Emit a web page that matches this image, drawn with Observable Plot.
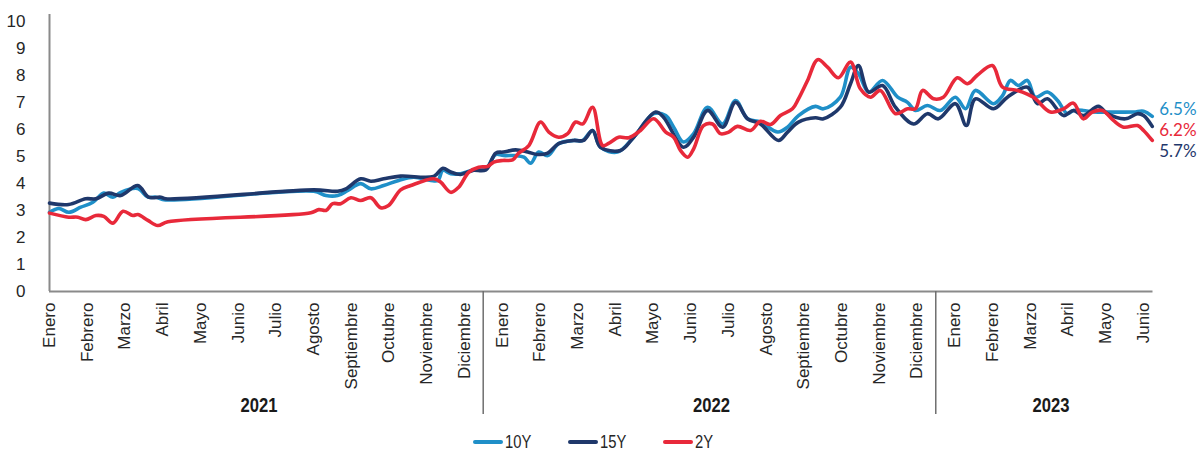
<!DOCTYPE html>
<html>
<head>
<meta charset="utf-8">
<script src="https://cdn.jsdelivr.net/npm/d3@7"></script>
<script src="https://cdn.jsdelivr.net/npm/@observablehq/plot@0.6"></script>
<style>
  html, body { margin: 0; padding: 0; background: #fff; overflow: hidden; }
  #chart svg { overflow: visible; display: block; }
  #legend { display: flex; justify-content: center; gap: 34px; margin-top: 13px; height: 18px; line-height: 18px; align-items: center;
    font-family: "Liberation Sans", Arial, sans-serif; font-size: 18px; color: #262626; padding-right: 4px; }
  #legend .item { display: flex; align-items: center; gap: 2px; }
  #legend .sw { width: 30px; height: 4px; border-radius: 2px; }
  #legend .lb { display: inline-block; transform: scaleX(0.82); transform-origin: left center; width: 29px; }
</style>
</head>
<body>
<div id="chart"></div>
<div id="legend"></div>
<script>
// Month labels (Spanish) and years
const months = ["Enero","Febrero","Marzo","Abril","Mayo","Junio","Julio","Agosto","Septiembre","Octubre","Noviembre","Diciembre"];
const years = [2021, 2022, 2023];
const monthCount = 30; // Enero 2021 .. Junio 2023

const seriesNames = ["10Y", "15Y", "2Y"];
const seriesColors = ["#1F8FC8", "#1F386B", "#E8293A"];
const endLabels = ["6.5%", "5.7%", "6.2%"];

// time position in months since Enero 2021 (0 = start of Enero 2021)
const t10 = [0,0.25,0.51,0.83,1.15,1.44,1.68,1.89,2.34,2.61,2.82,3.08,
  7.01,7.33,7.64,7.91,8.25,8.52,8.86,9.26,
  9.66,10.11,10.3,10.43,10.64,10.9,11.25,11.57,11.83,12.04,12.36,12.58,12.76,12.97,13.21,13.5,13.9,14.14,14.4,14.61,15.06,15.49,16.02,16.34,16.55,16.81,17.08,17.45,17.85,18.19,18.51,18.85,19.31,19.57,19.86,
  20.31,20.52,20.97,21.24,21.45,21.72,22.09,22.49,22.75,22.96,23.28,23.62,24.02,24.29,24.55,25.03,25.27,25.48,25.69,25.93,26.14,26.46,26.73,26.99,27.15,27.41,27.68,28.05,28.74,29.01,29.24];
const v10 = [2.93,3.07,2.93,3.12,3.30,3.64,3.49,3.67,3.81,3.49,3.49,3.39,
  3.71,3.55,3.55,3.74,3.99,3.80,3.92,4.11,
  4.23,4.11,4.11,4.48,4.36,4.36,4.50,4.54,5.07,5.03,5.03,4.97,4.75,5.16,5.03,5.47,5.59,5.59,5.96,5.34,5.16,5.71,6.58,6.51,6.08,5.53,5.84,6.82,6.20,7.07,6.39,6.27,5.90,6.08,6.51,
  6.85,6.76,7.19,8.30,8.06,7.38,7.81,7.19,7.00,6.70,6.88,6.70,7.19,6.76,7.44,6.95,7.25,7.81,7.62,7.81,7.19,7.38,7.07,6.58,6.70,6.70,6.64,6.64,6.64,6.67,6.48];

const t15 = [0,0.51,0.96,1.23,1.57,1.89,2.34,2.63,2.95,3.08,
  7.01,7.64,7.86,8.25,8.52,8.86,9.31,
  10.19,10.43,10.64,10.9,11.22,11.57,11.83,12.04,12.36,12.68,12.94,13.21,13.5,13.9,14.16,14.4,14.61,15.14,15.49,16.07,16.28,16.81,17.08,17.45,17.85,18.19,18.51,18.85,19.33,19.57,19.86,
  20.31,20.52,20.97,21.24,21.45,21.72,22.09,22.43,22.91,23.28,23.57,24.02,24.31,24.55,25.03,25.4,25.93,26.2,26.46,26.89,27.15,27.41,27.81,28.05,28.53,28.85,29.01,29.24];
const v15 = [3.27,3.22,3.43,3.43,3.64,3.55,3.92,3.49,3.49,3.43,
  3.76,3.71,3.80,4.17,4.08,4.17,4.27,
  4.26,4.56,4.42,4.33,4.48,4.50,5.12,5.16,5.24,5.16,5.07,5.12,5.47,5.59,5.59,5.96,5.34,5.22,5.71,6.64,6.45,5.34,5.71,6.70,6.08,7.00,6.39,6.20,5.59,5.90,6.27,
  6.43,6.39,6.82,7.69,8.36,7.38,7.62,6.82,6.20,6.58,6.39,6.95,6.14,7.13,6.76,7.19,7.56,6.95,7.13,6.51,6.70,6.51,6.85,6.58,6.39,6.58,6.51,6.11];

const t2 = [0,0.51,0.75,0.96,1.23,1.44,1.68,1.95,2.21,2.34,2.61,2.87,3.14,
  6.93,7.14,7.33,7.51,7.72,7.99,8.25,8.52,8.78,8.99,9.31,
  9.58,10.19,10.37,10.64,10.85,11.12,11.38,11.62,11.78,12.02,12.28,12.44,12.71,13.02,13.24,13.5,13.74,13.95,14.14,14.4,14.67,14.88,15.09,15.36,15.67,16.02,16.34,16.55,16.73,16.92,17.08,17.34,17.58,17.79,18.01,18.24,18.59,18.85,19.12,19.38,19.7,19.86,
  20.1,20.37,20.63,20.92,21.24,21.5,21.77,22.03,22.43,22.75,22.96,23.15,23.44,23.7,24.07,24.34,24.6,25.0,25.27,25.67,26.09,26.54,26.89,27.15,27.41,27.65,27.92,28.21,28.48,28.85,29.01,29.24];
const v2 = [2.90,2.75,2.75,2.66,2.81,2.78,2.53,2.97,2.81,2.85,2.63,2.44,2.58,
  2.91,3.03,3.00,3.25,3.25,3.47,3.37,3.47,3.10,3.18,3.76,
  3.92,4.17,4.05,3.67,3.86,4.42,4.60,4.63,4.79,4.85,4.87,5.12,5.40,6.27,5.90,5.71,5.84,6.27,6.20,6.82,5.40,5.53,5.71,5.69,5.96,6.39,5.90,5.71,5.22,4.97,5.28,6.14,6.20,5.84,5.90,6.11,5.96,6.30,6.18,6.51,6.76,7.13,
  7.81,8.58,8.30,7.91,8.49,7.50,7.19,7.44,6.58,6.76,6.76,7.44,7.13,7.19,7.91,7.69,8.00,8.36,7.56,7.44,7.19,6.64,6.76,6.97,6.39,6.64,6.70,6.33,6.08,6.14,5.96,5.59];

const yTicks = [0,1,2,3,4,5,6,7,8,9,10];

// ---- build tables ----
const raw = [[t10, v10], [t15, v15], [t2, v2]];
const data = [];
raw.forEach(([t, v], s) => t.forEach((x, i) => data.push({name: seriesNames[s], t: x, v: v[i]})));
const lastPts = raw.map(([t, v], s) => ({name: seriesNames[s], t: t[t.length - 1], v: v[v.length - 1], label: endLabels[s], color: seriesColors[s]}));
const labelDy = {"10Y": -7, "15Y": 25, "2Y": -10};
const yearInfo = years.map((y, i) => {
  const first = i * 12, last = Math.min(i * 12 + 11, monthCount - 1);
  return {year: String(y), center: (first + last) / 2};
});
const separators = years.slice(1).map((y, i) => (i + 1) * 12 - 0.5);

const W = 1200, H = 420;
const endMarks = lastPts.map(p => Plot.text([p], {x: "t", y: "v", text: "label", fill: p.color, textAnchor: "start",
  dx: 7, dy: labelDy[p.name], fontSize: 17, fontFamily: "Lato, sans-serif"}));

const plot = Plot.plot({
  width: W, height: H,
  marginLeft: 49, marginRight: 47.5, marginTop: 14, marginBottom: 129,
  style: {fontFamily: "'Liberation Sans', Arial, sans-serif", fontSize: "17px", color: "#262626", background: "#fff"},
  x: {type: "linear", domain: [0, 29.26]},
  y: {domain: [0, 10.25]},
  color: {domain: seriesNames, range: seriesColors},
  marks: [
    Plot.axisY({ticks: yTicks, tickSize: 0, tickPadding: 24, label: null, fontSize: 17}),
    Plot.axisX({ticks: d3.range(monthCount), tickFormat: i => months[i % 12], tickRotate: -90, tickSize: 0, tickPadding: 11, label: null, fontSize: 17}),
    Plot.ruleX([0], {y1: 0, y2: 10.25, stroke: "#8a8a8a", strokeWidth: 2}),
    Plot.ruleY([0], {stroke: "#8a8a8a", strokeWidth: 2}),
    Plot.ruleX(separators, {y1: 0, y2: -4.55, stroke: "#6f6f6f", strokeWidth: 1.5}),
    Plot.text(yearInfo, {x: "center", y: () => 0, dy: 114, dx: 2, text: "year", fontWeight: "bold", fontSize: 21,
      fontFamily: "'Liberation Sans', Arial, sans-serif", fill: "#1a1a1a", className: "yearlabel"}),
    Plot.line(data, {x: "t", y: "v", z: "name", stroke: "name", strokeWidth: 3.6, curve: "catmull-rom", strokeLinejoin: "round", strokeLinecap: "round"}),
    ...endMarks
  ]
});
document.getElementById("chart").appendChild(plot);
// condensed look for the bold year labels
d3.select(plot).selectAll(".yearlabel text").attr("textLength", 37).attr("lengthAdjust", "spacingAndGlyphs");

// legend
const legend = d3.select("#legend");
seriesNames.forEach((n, i) => {
  const it = legend.append("div").attr("class", "item");
  it.append("div").attr("class", "sw").style("background", seriesColors[i]);
  it.append("span").attr("class", "lb").text(n);
});
</script>
</body>
</html>
